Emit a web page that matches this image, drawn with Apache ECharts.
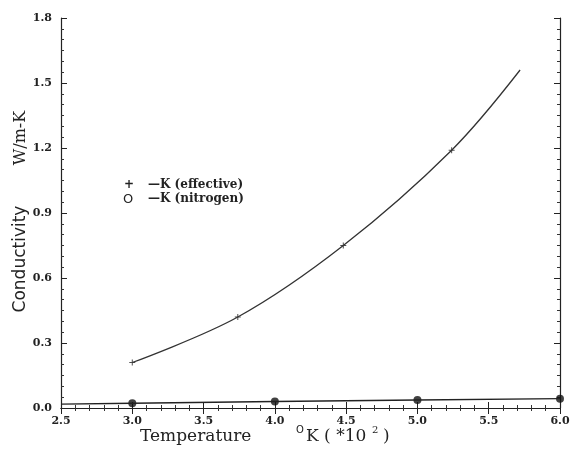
<!DOCTYPE html>
<html>
<head>
<meta charset="utf-8">
<script src="https://cdn.jsdelivr.net/npm/echarts@6/dist/echarts.min.js"></script>
<style>
  html, body { margin: 0; padding: 0; background: #fff; }
  #chart { width: 576px; height: 452px; }
</style>
</head>
<body>
<div id="chart"></div>
<script>
// measured points, K (effective)
const effX = [3.0, 3.74, 4.48, 5.24];
const effY = [0.21, 0.42, 0.75, 1.19];
// fitted curve as drawn (ends past last point)
const effCurveX = [3.0, 3.74, 4.48, 5.24, 5.72];
const effCurveY = [0.21, 0.42, 0.75, 1.19, 1.56];
// K (nitrogen)
const nitX = [3.0, 4.0, 5.0, 6.0];
const nitY = [0.022, 0.03, 0.037, 0.043];
const nitLineX = [2.5, 3.0, 4.0, 5.0, 6.0];
const nitLineY = [0.018, 0.022, 0.03, 0.037, 0.043];

const pairs = (xs, ys) => xs.map((x, i) => [x, ys[i]]);

const chart = echarts.init(document.getElementById('chart'));
const lblFont = { fontFamily: 'DejaVu Serif', fontSize: 11, fontWeight: 'bold', color: '#222' };
const plusPath = 'path://M5,0 L7,0 L7,5 L12,5 L12,7 L7,7 L7,12 L5,12 L5,7 L0,7 L0,5 L5,5 Z';

const line = { show: true, lineStyle: { color: '#222', width: 1.2 } };
const tick = { show: true, inside: true, length: 6, lineStyle: { color: '#222' } };
const minorX = { show: true, splitNumber: 5, length: 3, lineStyle: { color: '#333' } };
const minorY = { show: true, splitNumber: 6, length: 3, lineStyle: { color: '#333' } };

const option = {
  animation: false,
  backgroundColor: '#fff',
  grid: { left: 61, right: 16, top: 18, bottom: 44 },
  xAxis: [
    {
      type: 'value', min: 2.5, max: 6.0, interval: 0.5, position: 'bottom',
      axisLine: line, axisTick: tick, minorTick: minorX, splitLine: { show: false },
      axisLabel: Object.assign({ margin: 8, formatter: v => v.toFixed(1) }, lblFont)
    },
    {
      type: 'value', min: 2.5, max: 6.0, interval: 0.5, position: 'top',
      axisLine: line, axisTick: tick, minorTick: minorX, splitLine: { show: false },
      axisLabel: { show: false }
    }
  ],
  yAxis: [
    {
      type: 'value', min: 0, max: 1.8, interval: 0.3, position: 'left',
      axisLine: line, axisTick: tick, minorTick: minorY, splitLine: { show: false },
      axisLabel: Object.assign({ margin: 9, formatter: v => v.toFixed(1) }, lblFont)
    },
    {
      type: 'value', min: 0, max: 1.8, interval: 0.3, position: 'right',
      axisLine: line, axisTick: tick, minorTick: minorY, splitLine: { show: false },
      axisLabel: { show: false }
    }
  ],
  series: [
    {
      name: 'K (effective) fit', type: 'line', smooth: 0.35, showSymbol: false,
      lineStyle: { color: '#333', width: 1.3 },
      data: pairs(effCurveX, effCurveY)
    },
    {
      name: 'K (effective)', type: 'scatter', symbol: plusPath, symbolSize: 6,
      itemStyle: { color: '#222' },
      data: pairs(effX, effY)
    },
    {
      name: 'K (nitrogen) fit', type: 'line', showSymbol: false,
      lineStyle: { color: '#222', width: 1.3 },
      data: pairs(nitLineX, nitLineY)
    },
    {
      name: 'K (nitrogen)', type: 'scatter', symbol: 'circle', symbolSize: 8,
      itemStyle: { color: '#111' },
      data: pairs(nitX, nitY)
    }
  ],
  graphic: [
    // legend
    { type: 'text', left: 124, top: 179, style: { text: '+', font: 'bold 12px DejaVu Serif', fill: '#222' } },
    { type: 'text', left: 148, top: 179, style: { text: '—K (effective)', font: 'bold 12px DejaVu Serif', fill: '#222' } },
    { type: 'text', left: 123, top: 193, style: { text: 'O', font: '13px DejaVu Sans', fill: '#222' } },
    { type: 'text', left: 148, top: 193, style: { text: '—K (nitrogen)', font: 'bold 12px DejaVu Serif', fill: '#222' } },
    // y axis title
    { type: 'text', x: 21, y: 259, rotation: Math.PI / 2,
      style: { text: 'Conductivity', font: '17px DejaVu Sans', fill: '#222', textAlign: 'center', textVerticalAlign: 'middle' } },
    { type: 'text', x: 21, y: 138, rotation: Math.PI / 2,
      style: { text: 'W/m-K', font: '16px DejaVu Serif', fill: '#222', textAlign: 'center', textVerticalAlign: 'middle' } },
    // x axis title
    { type: 'text', left: 140, top: 428, style: { text: 'Temperature', font: '17px DejaVu Serif', fill: '#222' } },
    { type: 'text', left: 296, top: 425, style: { text: 'O', font: '10px DejaVu Sans', fill: '#222' } },
    { type: 'text', left: 306, top: 428, style: { text: 'K ( *10', font: '17px DejaVu Serif', fill: '#222' } },
    { type: 'text', left: 372, top: 425, style: { text: '2', font: '10px DejaVu Serif', fill: '#222' } },
    { type: 'text', left: 383, top: 428, style: { text: ')', font: '17px DejaVu Serif', fill: '#222' } }
  ]
};
chart.setOption(option);
</script>
</body>
</html>
